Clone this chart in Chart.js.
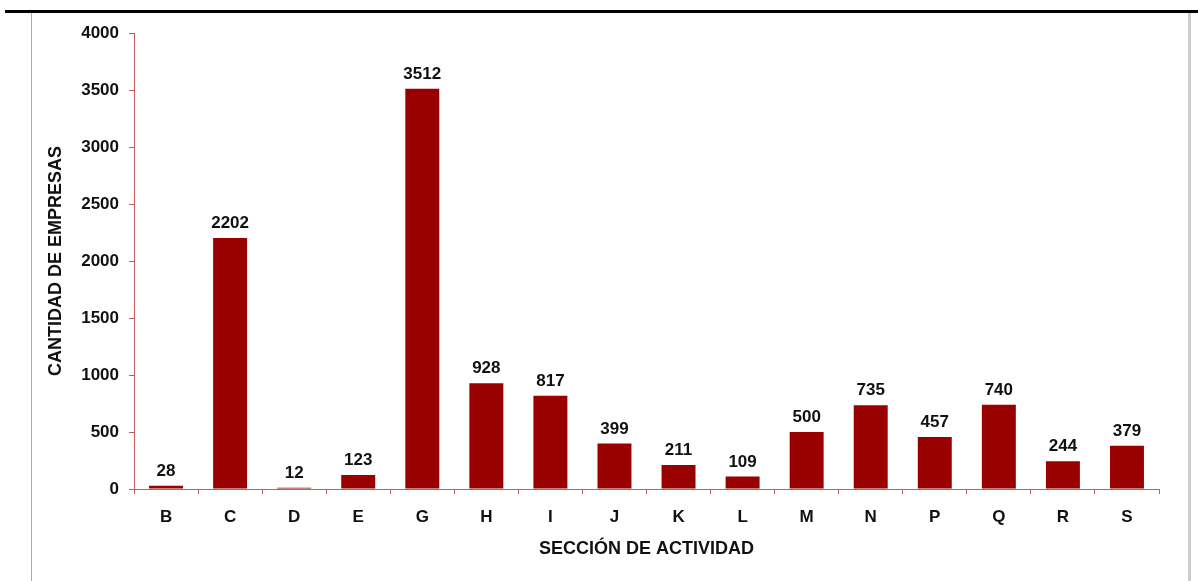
<!DOCTYPE html>
<html>
<head>
<meta charset="utf-8">
<script src="https://cdn.jsdelivr.net/npm/chart.js@4/dist/chart.umd.min.js"></script>
<style>
    body { margin: 0; background: #fff; }
    #wrap { position: relative; width: 1198px; height: 581px; overflow: hidden; }
    #chart { position: absolute; left: 0; top: 0; }
    .topline { position: absolute; left: 5px; top: 10px; width: 1193px; height: 3px; background: #000; }
    .leftline { position: absolute; left: 31px; top: 13px; width: 1px; height: 568px; background: #aaa; }
    .rightline { position: absolute; left: 1188px; top: 13px; width: 3px; height: 568px; background: #ccc; }
</style>
</head>
<body>
<div id="wrap">
    <canvas id="chart" width="1198" height="581"></canvas>
    <div class="topline"></div>
    <div class="leftline"></div>
    <div class="rightline"></div>
</div>
<script>
// Data
const categories = ['B', 'C', 'D', 'E', 'G', 'H', 'I', 'J', 'K', 'L', 'M', 'N', 'P', 'Q', 'R', 'S'];
const empresas = [28, 2202, 12, 123, 3512, 928, 817, 399, 211, 109, 500, 735, 457, 740, 244, 379];
const yTicks = [0, 500, 1000, 1500, 2000, 2500, 3000, 3500, 4000];

const axisColor = '#c85a5a';
const fontFamily = '"Liberation Sans", Arial, sans-serif';

// Draws the value above each bar
const valueLabels = {
    id: 'valueLabels',
    afterDatasetsDraw(chart) {
        const ctx = chart.ctx;
        const meta = chart.getDatasetMeta(0);
        ctx.save();
        ctx.font = 'bold 17px ' + fontFamily;
        ctx.fillStyle = '#111';
        ctx.textAlign = 'center';
        ctx.textBaseline = 'alphabetic';
        meta.data.forEach(function(bar, i) {
            ctx.fillText(String(empresas[i]), bar.x, bar.y - 10);
        });
        ctx.restore();
    }
};

document.addEventListener('DOMContentLoaded', function() {
    const ctx = document.getElementById('chart').getContext('2d');
    new Chart(ctx, {
        type: 'bar',
        data: {
            labels: categories,
            datasets: [{
                data: empresas,
                backgroundColor: '#990000',
                borderWidth: 0,
                barPercentage: 0.53,
                categoryPercentage: 1.0
            }]
        },
        options: {
            responsive: false,
            animation: false,
            layout: {
                padding: { left: 0, top: 33, right: 39, bottom: 0 }
            },
            plugins: {
                legend: { display: false },
                tooltip: { enabled: false }
            },
            scales: {
                x: {
                    afterFit: function(scale) { scale.height = 92; },
                    border: { color: axisColor, width: 1 },
                    grid: { drawOnChartArea: false, color: axisColor, tickLength: 5 },
                    ticks: {
                        color: '#111',
                        padding: 13,
                        font: { family: fontFamily, size: 17, weight: 'bold' }
                    },
                    title: {
                        display: true,
                        text: 'SECCIÓN DE ACTIVIDAD',
                        color: '#111',
                        padding: { top: 0, bottom: 21 },
                        font: { family: fontFamily, size: 18, weight: 'bold' }
                    }
                },
                y: {
                    min: 0,
                    max: 4000,
                    afterFit: function(scale) { scale.width = 134; },
                    afterBuildTicks: function(scale) {
                        scale.ticks = yTicks.map(function(v) { return { value: v }; });
                    },
                    border: { color: axisColor, width: 1 },
                    grid: { drawOnChartArea: false, color: axisColor, tickLength: 5 },
                    ticks: {
                        color: '#111',
                        padding: 10,
                        font: { family: fontFamily, size: 17, weight: 'bold' },
                        callback: function(value) { return String(value); }
                    },
                    title: {
                        display: true,
                        text: 'CANTIDAD DE EMPRESAS',
                        color: '#111',
                        padding: { top: 45, bottom: 0 },
                        font: { family: fontFamily, size: 18, weight: 'bold' }
                    }
                }
            }
        },
        plugins: [valueLabels]
    });
});
</script>
</body>
</html>
